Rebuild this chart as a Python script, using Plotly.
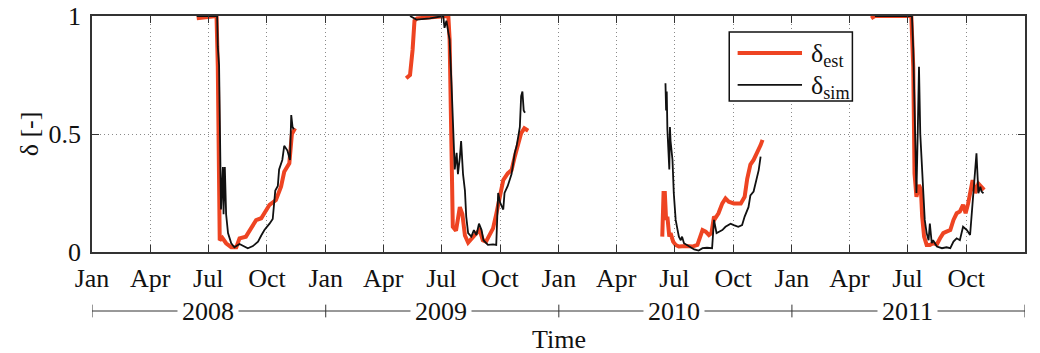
import plotly.graph_objects as go

# ---- estimated saturation (delta_est), one list pair per season ----
est_2008_t = ["2008-06-13", "2008-07-14", "2008-07-16", "2008-07-19", "2008-07-23", "2008-07-29",
              "2008-08-06", "2008-08-14", "2008-08-19", "2008-08-29", "2008-09-06", "2008-09-14",
              "2008-09-22", "2008-09-27", "2008-10-05", "2008-10-15", "2008-10-23", "2008-10-28",
              "2008-11-05", "2008-11-09", "2008-11-14"]
est_2008_v = [0.99, 1.0, 0.785, 0.05, 0.06, 0.037, 0.02, 0.02, 0.058, 0.065, 0.10, 0.135,
              0.143, 0.164, 0.20, 0.22, 0.277, 0.34, 0.376, 0.50, 0.524]

est_2009_t = ["2009-05-07", "2009-05-13", "2009-05-17", "2009-05-20", "2009-05-24", "2009-07-12",
              "2009-07-14", "2009-07-17", "2009-07-19", "2009-07-24", "2009-07-30", "2009-08-03",
              "2009-08-07", "2009-08-12", "2009-08-17", "2009-08-25", "2009-08-30", "2009-09-04",
              "2009-09-09", "2009-09-15", "2009-09-20", "2009-09-25", "2009-09-30", "2009-10-06",
              "2009-10-13", "2009-10-19", "2009-10-24", "2009-10-29", "2009-11-03", "2009-11-08",
              "2009-11-14"]
est_2009_v = [0.736, 0.75, 0.856, 0.98, 0.99, 1.0, 0.9, 0.5, 0.107, 0.09, 0.19, 0.16,
              0.07, 0.04, 0.058, 0.08, 0.093, 0.05, 0.044, 0.08, 0.10, 0.16, 0.235, 0.305,
              0.333, 0.347, 0.404, 0.46, 0.503, 0.524, 0.514]

est_2010_t = ["2010-06-12", "2010-06-14", "2010-06-16", "2010-06-18", "2010-06-20", "2010-06-23",
              "2010-06-25", "2010-06-29", "2010-07-03", "2010-07-08", "2010-07-19", "2010-07-29",
              "2010-08-06", "2010-08-11", "2010-08-14", "2010-08-19", "2010-08-24", "2010-08-28",
              "2010-09-01", "2010-09-03", "2010-09-08", "2010-09-14", "2010-09-19", "2010-09-24",
              "2010-10-02", "2010-10-13", "2010-10-19", "2010-10-23", "2010-10-28", "2010-11-02",
              "2010-11-09", "2010-11-13", "2010-11-16"]
est_2010_v = [0.065, 0.25, 0.25, 0.136, 0.15, 0.065, 0.08, 0.044, 0.03, 0.023, 0.025, 0.023,
              0.03, 0.065, 0.093, 0.086, 0.072, 0.08, 0.15, 0.143, 0.164, 0.206, 0.227, 0.213,
              0.206, 0.206, 0.234, 0.31, 0.37, 0.39, 0.425, 0.453, 0.475]

est_2011_t = ["2011-05-05", "2011-05-11", "2011-07-07", "2011-07-10", "2011-07-12", "2011-07-15",
              "2011-07-19", "2011-07-22", "2011-07-24", "2011-07-27", "2011-07-31", "2011-08-05",
              "2011-08-10", "2011-08-16", "2011-08-21", "2011-08-26", "2011-08-31", "2011-09-06",
              "2011-09-11", "2011-09-16", "2011-09-21", "2011-09-26", "2011-09-30", "2011-10-04",
              "2011-10-11", "2011-10-15", "2011-10-20", "2011-10-25", "2011-10-29"]
est_2011_v = [0.99, 1.0, 1.0, 0.785, 0.333, 0.234, 0.284, 0.263, 0.15, 0.065, 0.03, 0.03,
              0.037, 0.032, 0.058, 0.08, 0.086, 0.093, 0.136, 0.164, 0.171, 0.20, 0.164, 0.206,
              0.305, 0.249, 0.29, 0.277, 0.263]

# ---- simulated saturation (delta_sim) ----
sim_2008_t = ["2008-06-13", "2008-07-15", "2008-07-16", "2008-07-18", "2008-07-21", "2008-07-24",
              "2008-07-25", "2008-07-27", "2008-07-29", "2008-08-01", "2008-08-06", "2008-08-11",
              "2008-08-19", "2008-08-27", "2008-09-01", "2008-09-09", "2008-09-17", "2008-09-22",
              "2008-09-27", "2008-10-05", "2008-10-10", "2008-10-14", "2008-10-18", "2008-10-20",
              "2008-10-25", "2008-10-28", "2008-11-02", "2008-11-06", "2008-11-08", "2008-11-10",
              "2008-11-12"]
sim_2008_v = [1.0, 1.0, 0.87, 0.79, 0.18, 0.36, 0.16, 0.36, 0.16, 0.08, 0.037, 0.02,
              0.034, 0.025, 0.016, 0.025, 0.044, 0.07, 0.093, 0.12, 0.14, 0.26, 0.28, 0.35,
              0.39, 0.45, 0.43, 0.39, 0.58, 0.53, 0.52]

sim_2009_t = ["2009-05-13", "2009-05-23", "2009-06-13", "2009-07-04", "2009-07-06", "2009-07-09",
              "2009-07-12", "2009-07-14", "2009-07-17", "2009-07-19", "2009-07-22", "2009-07-25",
              "2009-07-27", "2009-07-30", "2009-08-01", "2009-08-04", "2009-08-07", "2009-08-09",
              "2009-08-12", "2009-08-17", "2009-08-21", "2009-08-25", "2009-08-29", "2009-09-02",
              "2009-09-05", "2009-09-12", "2009-09-20", "2009-09-25", "2009-09-28", "2009-10-01",
              "2009-10-06", "2009-10-08", "2009-10-13", "2009-10-19", "2009-10-24", "2009-10-27",
              "2009-11-01", "2009-11-03", "2009-11-05", "2009-11-07", "2009-11-09"]
sim_2009_v = [1.0, 0.985, 0.99, 1.0, 0.95, 0.98, 0.93, 0.9, 0.71, 0.59, 0.35, 0.42,
              0.33, 0.40, 0.47, 0.33, 0.26, 0.15, 0.08, 0.065, 0.093, 0.072, 0.12, 0.093,
              0.05, 0.03, 0.032, 0.03, 0.25, 0.21, 0.18, 0.25, 0.28, 0.33, 0.42, 0.45,
              0.53, 0.66, 0.68, 0.60, 0.59]

sim_2010_t = ["2010-06-17", "2010-06-18", "2010-06-19", "2010-06-20", "2010-06-23", "2010-06-24",
              "2010-06-25", "2010-06-28", "2010-06-30", "2010-07-03", "2010-07-06", "2010-07-08",
              "2010-07-11", "2010-07-13", "2010-07-16", "2010-07-24", "2010-08-01", "2010-08-08",
              "2010-08-14", "2010-08-21", "2010-08-29", "2010-09-01", "2010-09-05", "2010-09-09",
              "2010-09-14", "2010-09-19", "2010-09-27", "2010-10-02", "2010-10-09", "2010-10-15",
              "2010-10-19", "2010-10-25", "2010-10-28", "2010-11-02", "2010-11-06", "2010-11-10",
              "2010-11-13"]
sim_2010_v = [0.715, 0.60, 0.68, 0.52, 0.35, 0.53, 0.47, 0.39, 0.25, 0.136, 0.093, 0.065,
              0.05, 0.065, 0.037, 0.023, 0.011, 0.006, 0.016, 0.018, 0.016, 0.136, 0.08, 0.086,
              0.093, 0.107, 0.12, 0.114, 0.107, 0.114, 0.15, 0.19, 0.24, 0.256, 0.305, 0.347,
              0.404]

sim_2011_t = ["2011-05-11", "2011-07-08", "2011-07-10", "2011-07-13", "2011-07-15", "2011-07-17",
              "2011-07-19", "2011-07-21", "2011-07-23", "2011-07-26", "2011-07-28", "2011-07-31",
              "2011-08-03", "2011-08-05", "2011-08-08", "2011-08-10", "2011-08-16", "2011-08-24",
              "2011-08-31", "2011-09-06", "2011-09-11", "2011-09-16", "2011-09-21", "2011-09-26",
              "2011-10-02", "2011-10-07", "2011-10-09", "2011-10-14", "2011-10-17", "2011-10-20",
              "2011-10-23", "2011-10-25", "2011-10-28"]
sim_2011_v = [1.0, 1.0, 0.86, 0.5, 0.25, 0.5, 0.785, 0.5, 0.39, 0.22, 0.136, 0.08,
              0.05, 0.12, 0.037, 0.05, 0.023, 0.016, 0.02, 0.016, 0.044, 0.058, 0.05, 0.107,
              0.093, 0.072, 0.15, 0.305, 0.418, 0.249, 0.277, 0.256, 0.249]

years = ["2008", "2009", "2010", "2011"]
year_starts = ["2008-01-01", "2009-01-01", "2010-01-01", "2011-01-01", "2012-01-01"]
year_mids = ["2008-07-01", "2009-07-01", "2010-07-01", "2011-07-01"]
y_ticks = [0, 0.5, 1]
y_ticklabels = ["0", "0.5", "1"]

RED = "#EE4422"
BLACK = "#111111"
AXIS = "#333333"
GRID = "#8a8a8a"
FONT = "Liberation Serif"


def join(*pairs):
    """Concatenate seasonal segments, separated by gaps."""
    xs, ys = [], []
    for t, v in pairs:
        if xs:
            xs.append(None)
            ys.append(None)
        xs.extend(t)
        ys.extend(v)
    return xs, ys


est_x, est_y = join((est_2008_t, est_2008_v), (est_2009_t, est_2009_v),
                    (est_2010_t, est_2010_v), (est_2011_t, est_2011_v))
sim_x, sim_y = join((sim_2008_t, sim_2008_v), (sim_2009_t, sim_2009_v),
                    (sim_2010_t, sim_2010_v), (sim_2011_t, sim_2011_v))

fig = go.Figure()
fig.add_trace(go.Scatter(x=est_x, y=est_y, mode="lines", name="δest",
                         line=dict(color=RED, width=4), connectgaps=False))
fig.add_trace(go.Scatter(x=sim_x, y=sim_y, mode="lines", name="δsim",
                         line=dict(color=BLACK, width=1.8), connectgaps=False))

fig.update_layout(
    width=1040, height=353,
    margin=dict(l=92, r=15, t=16, b=101),
    paper_bgcolor="white", plot_bgcolor="white",
    showlegend=False,
    font=dict(family=FONT, size=26, color="#111"),
)

fig.update_xaxes(
    range=[year_starts[0], year_starts[-1]], automargin=False,
    tick0="2008-01-01", dtick="M3", tickformat="%b",
    ticks="inside", ticklen=7, tickcolor=AXIS, tickwidth=1,
    showline=True, linecolor=AXIS, linewidth=1.5, mirror="ticks",
    showgrid=True, gridcolor=GRID, griddash="1px,3px", gridwidth=1,
    zeroline=False, ticklabelstandoff=2,
    tickfont=dict(family=FONT, size=26, color="#111"),
)
fig.update_yaxes(
    range=[0, 1], tickvals=y_ticks, ticktext=y_ticklabels, automargin=False,
    ticks="inside", ticklen=7, tickcolor=AXIS, tickwidth=1,
    showline=True, linecolor=AXIS, linewidth=1.5, mirror="ticks",
    showgrid=True, gridcolor=GRID, griddash="1px,3px", gridwidth=1,
    zeroline=False, ticklabelstandoff=4,
    tickfont=dict(family=FONT, size=26, color="#111"),
    title=dict(text="δ [-]", font=dict(family=FONT, size=26, color="#111"), standoff=2),
)

# year bracket under the month labels
YB = -0.25
fig.add_shape(type="line", xref="x", yref="paper", x0=year_starts[0], x1=year_starts[-1],
              y0=YB, y1=YB, line=dict(color=AXIS, width=1))
for ys_ in year_starts:
    fig.add_shape(type="line", xref="x", yref="paper", x0=ys_, x1=ys_,
                  y0=YB - 0.027, y1=YB + 0.027, line=dict(color=AXIS, width=1))
for label, mid in zip(years, year_mids):
    fig.add_annotation(x=mid, y=YB, xref="x", yref="paper", text=label, showarrow=False,
                       xanchor="center", yanchor="middle", bgcolor="white", borderpad=4,
                       font=dict(family=FONT, size=26, color="#111"))

fig.add_annotation(x=0.5, y=-0.372, xref="paper", yref="paper", text="Time", showarrow=False,
                   xanchor="center", yanchor="middle",
                   font=dict(family=FONT, size=26, color="#111"))

# legend box drawn by hand
fig.add_shape(type="rect", xref="paper", yref="paper", x0=0.683, x1=0.815, y0=0.640, y1=0.932,
              line=dict(color=BLACK, width=1.5), fillcolor="white", layer="above")
fig.add_shape(type="line", xref="paper", yref="paper", x0=0.692, x1=0.761, y0=0.843, y1=0.843,
              line=dict(color=RED, width=4))
fig.add_shape(type="line", xref="paper", yref="paper", x0=0.692, x1=0.761, y0=0.708, y1=0.708,
              line=dict(color=BLACK, width=1.8))
for text, yy in [("δ<sub>est</sub>", 0.835), ("δ<sub>sim</sub>", 0.700)]:
    fig.add_annotation(x=0.768, y=yy, xref="paper", yref="paper", text=text, showarrow=False,
                       xanchor="left", yanchor="middle",
                       font=dict(family=FONT, size=26, color="#111"))

fig.write_html("out.html")
